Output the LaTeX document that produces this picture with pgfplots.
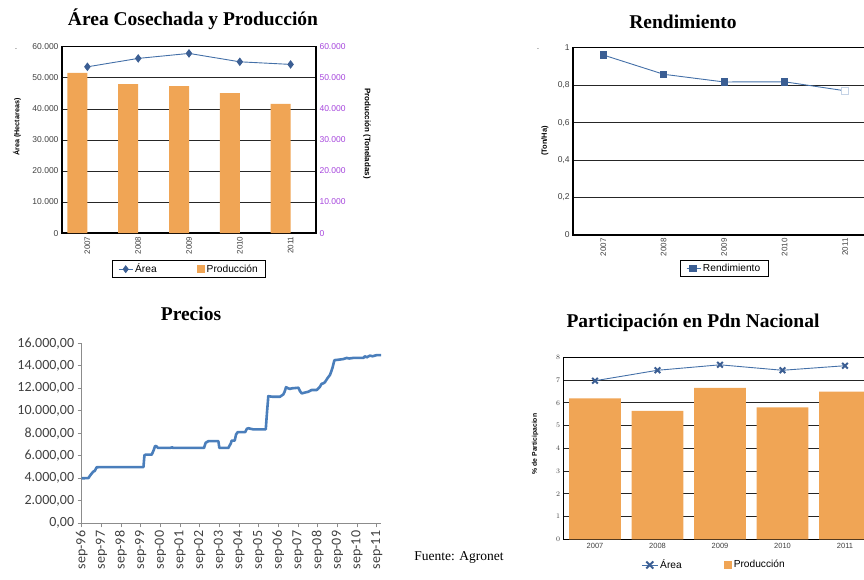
\documentclass[border=0pt]{standalone}
\usepackage{pgfplots}
\pgfplotsset{compat=1.18}
\usepackage{fontspec}
\setmainfont{Liberation Sans}
\newfontfamily\calfont{Carlito}
\newfontfamily\titlefont{Liberation Serif}
\definecolor{barorange}{HTML}{F0A555}
\definecolor{lineblue}{HTML}{4470A8}
\definecolor{markblue}{HTML}{3B5E93}
\definecolor{pricecol}{HTML}{4A7EBB}
\definecolor{tickgray}{HTML}{404040}
\definecolor{purpletick}{HTML}{A545DC}
\definecolor{paleblue}{HTML}{C5D3E6}

\pgfplotsset{
  office/.style={
    scale only axis, anchor=south west,
    xmin=-0.5, xmax=4.5, ymin=0,
    scaled y ticks=false,
    xtick={0,...,4}, xticklabels={2007,2008,2009,2010,2011},
    tick style={draw=none},
    ymajorgrids, grid style={black!85, line width=0.8pt},
    axis line style={black, line width=1.3pt},
    tick label style={text=tickgray},
    legend cell align=left,
  }
}

\begin{document}
\begin{tikzpicture}
\useasboundingbox (0pt,0pt) rectangle (864pt,579pt);

% ---------- Chart 1: Area cosechada y produccion ----------
\begin{axis}[office,
  at={(62pt,345.9pt)}, width=254pt, height=186.3pt,
  ymax=60000, ytick={0,10000,...,60000},
  yticklabels={0,10.000,20.000,30.000,40.000,50.000,60.000},
  x tick label style={rotate=90, anchor=east, font=\fontsize{8}{9}\selectfont},
  y tick label style={font=\fontsize{8.5}{10}\selectfont},
  legend style={at={(0.5,-0.145)}, anchor=north, draw=black, line width=0.8pt,
    font=\fontsize{10.2}{12}\selectfont, inner xsep=6pt, inner ysep=1.5pt},
  legend columns=2,
  legend style={/tikz/every even column/.append style={column sep=38pt}},
]
\addplot[lineblue, line width=0.9pt, mark=diamond*, mark size=3.6pt,
  mark options={fill=markblue, draw=markblue},
  legend image code/.code={\draw[lineblue, line width=0.9pt] (0pt,0pt) -- (14pt,0pt);
     \draw[fill=markblue, draw=markblue] (7pt,3.3pt) -- (9.5pt,0pt) -- (7pt,-3.3pt) -- (4.5pt,0pt) -- cycle;}]
  coordinates {(0,53560) (1,56260) (2,57870) (3,55170) (4,54330)};
\addlegendentry{Área}
\addplot[ybar, bar width=20pt, bar shift=-10pt, fill=barorange, draw=none,
  legend image code/.code={\fill[barorange] (0pt,-4pt) rectangle (8pt,4pt);}]
  coordinates {(0,51630) (1,47990) (2,47340) (3,45090) (4,41640)};
\addlegendentry{Producción}
\end{axis}
\begin{axis}[
  scale only axis, anchor=south west,
  at={(62pt,345.9pt)}, width=254pt, height=186.3pt,
  xmin=-0.5, xmax=4.5, ymin=0, ymax=60000,
  scaled y ticks=false,
  hide x axis, axis y line*=right, axis line style={draw=none},
  tick style={draw=none},
  ytick={0,10000,...,60000},
  yticklabels={0,10.000,20.000,30.000,40.000,50.000,60.000},
  y tick label style={font=\fontsize{8.5}{10}\selectfont, text=purpletick},
]
\addplot[draw=none] coordinates {(0,0)};
\end{axis}
\node[rotate=90, font=\bfseries\fontsize{7.2}{8}\selectfont, text=black] at (17pt,452pt) {Área (Hectareas)};
\node[rotate=-90, font=\bfseries\fontsize{8}{9}\selectfont, text=black] at (367pt,445.5pt) {Producción (Toneladas)};
\node[font=\titlefont\bfseries\fontsize{19.5}{22}\selectfont] at (193pt,560pt) {Área Cosechada y Producción};
\node[font=\fontsize{7}{7}\selectfont] at (16pt,530pt) {.};

% ---------- Chart 2: Rendimiento ----------
\begin{axis}[office,
  at={(573.1pt,344pt)}, width=302.1pt, height=187.3pt,
  ymax=1, ytick={0,0.2,...,1},
  yticklabels={0,{0,2},{0,4},{0,6},{0,8},1},
  x tick label style={rotate=90, anchor=east, font=\fontsize{8}{9}\selectfont},
  y tick label style={font=\fontsize{8.5}{10}\selectfont},
  legend style={at={(0.5,-0.1335)}, anchor=north, draw=black, line width=0.8pt,
    font=\fontsize{10.2}{12}\selectfont, inner xsep=6pt, inner ysep=1.5pt},
]
\addplot[lineblue, line width=0.9pt, mark=square*, mark size=3.2pt,
  mark options={fill=markblue, draw=markblue}, mark indices={1,2,3,4},
  legend image code/.code={\draw[lineblue, line width=0.9pt] (0pt,0pt) -- (14pt,0pt);
     \fill[markblue] (3pt,-3.3pt) rectangle (9.6pt,3.3pt);}]
  coordinates {(0,0.961) (1,0.858) (2,0.817) (3,0.818) (4,0.770)};
\addlegendentry{Rendimiento}
\addplot[only marks, mark=square*, mark size=3.2pt,
  mark options={fill=white, draw=paleblue, line width=0.8pt}, forget plot]
  coordinates {(4,0.770)};
\end{axis}
\node[rotate=90, font=\bfseries\fontsize{7.5}{8}\selectfont] at (545pt,438pt) {(Ton/Ha)};
\node[font=\titlefont\bfseries\fontsize{19.5}{22}\selectfont] at (683pt,557pt) {Rendimiento};
\node[font=\fontsize{7}{7}\selectfont] at (538pt,530pt) {.};

% ---------- Chart 3: Precios ----------
\begin{axis}[
  scale only axis, anchor=south west,
  at={(81.7pt,55.7pt)}, width=299.3pt, height=180pt,
  xmin=0, xmax=15.22, ymin=0, ymax=16000,
  scaled y ticks=false, scaled x ticks=false,
  axis x line=bottom, axis y line=left,
  axis line style={-, draw=black!45, line width=0.8pt},
  tick align=outside, major tick length=4pt,
  tick style={draw=black!45, line width=0.8pt},
  xtick={0,...,15},
  xticklabels={sep-96,sep-97,sep-98,sep-99,sep-00,sep-01,sep-02,sep-03,sep-04,sep-05,sep-06,sep-07,sep-08,sep-09,sep-10,sep-11},
  ytick={0,2000,...,16000},
  yticklabels={{0,00},{2.000,00},{4.000,00},{6.000,00},{8.000,00},{10.000,00},{12.000,00},{14.000,00},{16.000,00}},
  x tick label style={rotate=90, anchor=east, font=\calfont\fontsize{14}{15}\selectfont, text=tickgray},
  y tick label style={font=\calfont\fontsize{14}{15}\selectfont, text=tickgray},
]
\addplot[pricecol, line width=2.6pt, line join=round] coordinates {
(0,4000) (0.34,4020) (0.45,4300) (0.59,4600) (0.66,4650) (0.76,4980) (1.0,5000)
(3.14,5000) (3.19,6050) (3.25,6100) (3.56,6100) (3.66,6500) (3.73,6870) (3.80,6850)
(3.88,6700) (4.5,6700) (4.6,6750) (4.65,6700) (6.22,6700) (6.30,7150) (6.44,7300)
(6.95,7300) (7.0,6700) (7.46,6700) (7.58,7100) (7.63,7350) (7.78,7350) (7.85,7900)
(7.93,8100) (8.31,8100) (8.40,8400) (8.47,8450) (8.60,8400) (8.73,8350) (9.36,8350)
(9.42,9800) (9.49,11300) (9.70,11250) (10.08,11250) (10.25,11450) (10.32,11700)
(10.39,12100) (10.50,12000) (10.59,11950) (10.70,12000) (11.02,12050) (11.10,11750)
(11.19,11550) (11.30,11600) (11.53,11700) (11.69,11850) (11.95,11850) (12.10,12100)
(12.20,12400) (12.30,12450) (12.37,12550) (12.50,12900) (12.63,13200) (12.75,13800)
(12.85,14500) (13.10,14550) (13.31,14600) (13.47,14700) (13.60,14650) (13.81,14700)
(14.32,14700) (14.40,14850) (14.49,14750) (14.60,14850) (14.66,14900) (14.80,14850)
(15.0,14950) (15.22,14950)
};
\end{axis}
\node[font=\titlefont\bfseries\fontsize{19.5}{22}\selectfont] at (191pt,265pt) {Precios};

% ---------- Chart 4: Participacion ----------
\begin{axis}[office,
  at={(563.75pt,39.7pt)}, width=312.5pt, height=182pt,
  ymax=8, ytick={0,...,8},
  x tick label style={font=\fontsize{7.5}{9}\selectfont},
  y tick label style={font=\fontsize{7}{8}\selectfont},
  legend style={at={(0.481,-0.141)}, anchor=center, draw=none,
    font=\fontsize{10.2}{12}\selectfont},
  legend columns=2,
  legend style={/tikz/every even column/.append style={column sep=40pt}},
]
\addplot[lineblue, line width=0.9pt, mark=x, mark size=4pt,
  mark options={draw=markblue, line width=2pt},
  legend image code/.code={\draw[lineblue, line width=0.9pt] (0pt,0pt) -- (16pt,0pt);
     \draw[markblue, line width=2pt] (4.5pt,-3.5pt) -- (11.5pt,3.5pt) (4.5pt,3.5pt) -- (11.5pt,-3.5pt);}]
  coordinates {(0,6.97) (1,7.43) (2,7.67) (3,7.43) (4,7.63)};
\addlegendentry{Área}
\addplot[ybar, bar width=51.7pt, bar shift=0pt, fill=barorange, draw=none,
  legend image code/.code={\fill[barorange] (0pt,-4pt) rectangle (8pt,4pt);}]
  coordinates {(0,6.20) (1,5.64) (2,6.66) (3,5.80) (4,6.49)};
\addlegendentry{Producción}
\end{axis}
\node[rotate=90, font=\bfseries\fontsize{6.8}{8}\selectfont] at (535pt,135pt) {\% de Participacion};
\node[font=\titlefont\bfseries\fontsize{19.5}{22}\selectfont] at (693pt,256.3pt) {Participación en Pdn Nacional};

% ---------- Source ----------
\node[font=\titlefont\fontsize{13.5}{15}\selectfont] at (459pt,22pt) {Fuente: Agronet};
\end{tikzpicture}
\end{document}
